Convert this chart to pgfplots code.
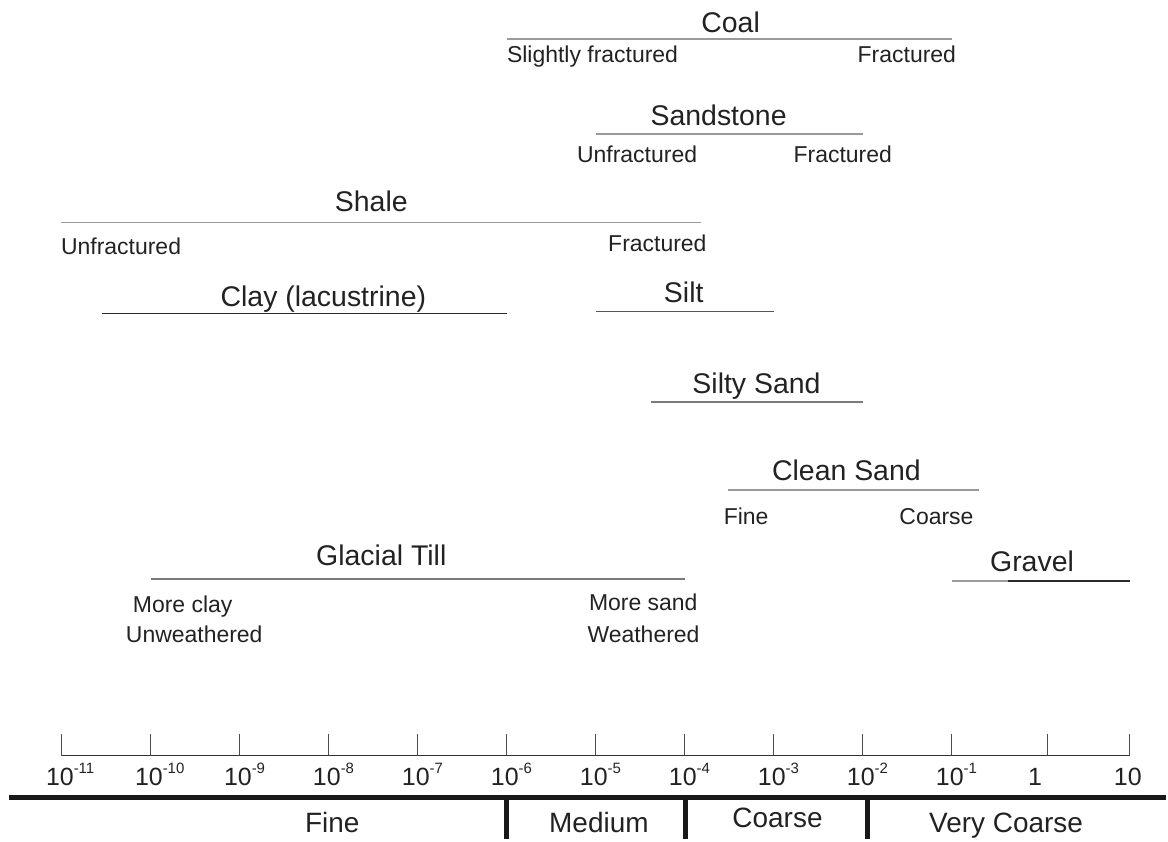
\documentclass[border=0pt]{standalone}
\usepackage{pgfplots}
\pgfplotsset{compat=1.18}
\usepackage{fontspec}
\setmainfont{Liberation Sans}
\newcommand\tfont{\fontsize{28.5bp}{30bp}\selectfont}
\newcommand\sfont{\fontsize{23bp}{25bp}\selectfont}
\newcommand\cfont{\fontsize{28bp}{30bp}\selectfont}
\newcommand\sx[1]{\rlap{\raisebox{12bp}{\fontsize{15bp}{15bp}\selectfont #1}}}
\definecolor{txt}{HTML}{222222}
\definecolor{lg}{HTML}{9A9A9A}
\definecolor{mg}{HTML}{7A7A7A}
\definecolor{dk}{HTML}{2A2A2A}
\begin{document}
\begin{tikzpicture}
% main layout axis: x = log10 of hydraulic conductivity, y = vertical row position
\begin{axis}[name=main, at={(0,0)}, anchor=south west,
  width=1168bp, height=841bp, scale only axis,
  xmin=-11.6953, xmax=1.4033, ymin=0, ymax=841, y dir=reverse,
  hide axis, clip=false]
\path (axis cs:-11.6953,0) rectangle (axis cs:1.4033,841);
% ranges
\addplot[lg, line width=1.7bp] coordinates {(-6,39) (-1,39)};          % Coal
\addplot[lg, line width=1.7bp] coordinates {(-5,134) (-2,134)};        % Sandstone
\addplot[lg, line width=1.7bp] coordinates {(-11.01,223) (-3.823,223)}; % Shale
\addplot[dk, line width=1.5bp] coordinates {(-10.551,314) (-6,314)};   % Clay
\addplot[dk!80, line width=1.5bp] coordinates {(-5,312) (-3,312)};     % Silt
\addplot[mg, line width=1.5bp] coordinates {(-4.383,403) (-2,403)};    % Silty sand
\addplot[lg, line width=1.7bp] coordinates {(-3.52,491) (-0.694,491)}; % Clean sand
\addplot[mg, line width=1.5bp] coordinates {(-10,580) (-4,580)};       % Glacial till
\addplot[lg, line width=1.5bp] coordinates {(-1,582) (-0.369,582)};    % Gravel
\addplot[dk, line width=1.5bp] coordinates {(-0.369,582) (1,582)};     % Gravel
% titles
\node[anchor=base, text=txt, font=\tfont] at (axis cs:-3.486,33) {Coal};
\node[anchor=base, text=txt, font=\tfont] at (axis cs:-3.621,126) {Sandstone};
\node[anchor=base, text=txt, font=\tfont] at (axis cs:-7.523,212) {Shale};
\node[anchor=base, text=txt, font=\tfont] at (axis cs:-8.062,307) {Clay (lacustrine)};
\node[anchor=base, text=txt, font=\tfont] at (axis cs:-4.013,303) {Silt};
\node[anchor=base, text=txt, font=\tfont] at (axis cs:-3.195,394) {Silty Sand};
\node[anchor=base, text=txt, font=\tfont] at (axis cs:-2.185,481) {Clean Sand};
\node[anchor=base, text=txt, font=\tfont] at (axis cs:-0.0995,573) {Gravel};
\node[anchor=base, text=txt, font=\tfont] at (axis cs:-7.411,567) {Glacial Till};
% sub labels
\node[anchor=base west, inner sep=0pt, text=txt, font=\sfont] at (axis cs:-6.0,63) {Slightly fractured};
\node[anchor=base east, inner sep=0pt, text=txt, font=\sfont] at (axis cs:-0.952,63) {Fractured};
\node[anchor=base west, inner sep=0pt, text=txt, font=\sfont] at (axis cs:-5.213,163) {Unfractured};
\node[anchor=base west, inner sep=0pt, text=txt, font=\sfont] at (axis cs:-2.780,163) {Fractured};
\node[anchor=base west, inner sep=0pt, text=txt, font=\sfont] at (axis cs:-11.011,255) {Unfractured};
\node[anchor=base east, inner sep=0pt, text=txt, font=\sfont] at (axis cs:-3.755,252) {Fractured};
\node[anchor=base west, inner sep=0pt, text=txt, font=\sfont] at (axis cs:-3.565,526) {Fine};
\node[anchor=base west, inner sep=0pt, text=txt, font=\sfont] at (axis cs:-1.591,526) {Coarse};
\node[anchor=base west, inner sep=0pt, text=txt, font=\sfont] at (axis cs:-10.204,614) {More clay};
\node[anchor=base west, inner sep=0pt, text=txt, font=\sfont] at (axis cs:-10.282,644) {Unweathered};
\node[anchor=base east, inner sep=0pt, text=txt, font=\sfont] at (axis cs:-3.856,612) {More sand};
\node[anchor=base east, inner sep=0pt, text=txt, font=\sfont] at (axis cs:-3.834,644) {Weathered};
% bottom classification bar
\addplot[black!90, line width=4.5bp] coordinates {(-11.594,799) (1.4033,799)};
\addplot[black!90, line width=5bp] coordinates {(-6,797) (-6,841)};
\addplot[black!90, line width=5bp] coordinates {(-3.991,797) (-3.991,841)};
\addplot[black!90, line width=5bp] coordinates {(-1.95,797) (-1.95,841)};
\node[anchor=base, text=txt, font=\cfont] at (axis cs:-7.961,834) {Fine};
\node[anchor=base, text=txt, font=\cfont] at (axis cs:-4.966,834) {Medium};
\node[anchor=base, text=txt, font=\cfont] at (axis cs:-2.959,829) {Coarse};
\node[anchor=base, text=txt, font=\cfont] at (axis cs:-0.391,834) {Very Coarse};
\end{axis}
% scale axis
\begin{axis}[at={(62bp,84bp)}, anchor=south west,
  width=1070bp, height=10bp, scale only axis,
  xmin=-11, xmax=1, ymin=0, ymax=1,
  axis x line*=bottom, axis y line=none,
  x axis line style={black!80, line width=1.2bp},
  tick align=inside, major tick length=22bp,
  xtick={-11,-10,-9,-8,-7,-6,-5,-4,-3,-2,-1,0.07,1},
  xticklabels={10\sx{-11},10\sx{-10},10\sx{-9},10\sx{-8},10\sx{-7},10\sx{-6},10\sx{-5},10\sx{-4},10\sx{-3},10\sx{-2},10\sx{-1},\rlap{\hspace{-17bp}1},10},
  x tick style={black!70, line width=1.1bp},
  xticklabel style={font=\fontsize{25bp}{25bp}\selectfont, text=txt, anchor=base, yshift=-30bp, inner sep=0pt, xshift=-2bp},
  minor tick num=0]
\addplot[draw=none] coordinates {(-11,0) (1,0)};
\end{axis}
\end{tikzpicture}
\end{document}
